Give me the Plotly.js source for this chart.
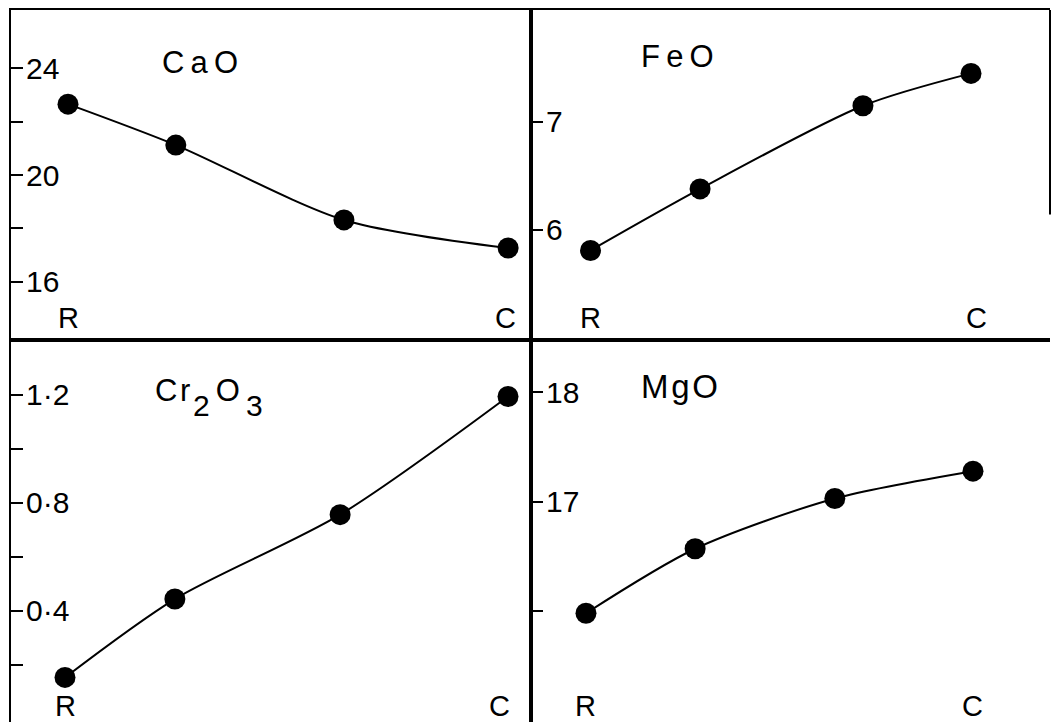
<!DOCTYPE html>
<html>
<head>
<meta charset="utf-8">
<script src="https://cdn.plot.ly/plotly-3.0.1.min.js"></script>
<style>
  html, body { margin: 0; padding: 0; background: #fff; overflow: hidden; }
  #wrap { width: 1054px; height: 722px; overflow: hidden; position: relative; }
  #chart { width: 1054px; height: 742px; }
</style>
</head>
<body>
<div id="wrap"><div id="chart"></div></div>
<script>
// ---- data ----
const profileLabels = ["R", "C"];   // rim, core
const profileEnds = [0, 1];

const caoPos = [0, 0.245, 0.627, 1];
const caoValues = [22.65, 21.12, 18.32, 17.27];
const caoTickVals = [16, 18, 20, 22, 24];
const caoTickText = ["16", "", "20", "", "24"];

const feoPos = [0, 0.288, 0.716, 1];
const feoValues = [5.81, 6.38, 7.15, 7.45];
const feoTickVals = [6, 7];
const feoTickText = ["6", "7"];

const cr2o3Pos = [0, 0.248, 0.621, 1];
const cr2o3Values = [0.154, 0.444, 0.756, 1.193];
const cr2o3TickVals = [0.2, 0.4, 0.6, 0.8, 1.0, 1.2];
const cr2o3TickText = ["", "0\u00b74", "", "0\u00b78", "", "1\u00b72"];

const mgoPos = [0, 0.282, 0.643, 1];
const mgoValues = [15.98, 16.57, 17.03, 17.28];
const mgoTickVals = [16, 17, 18];
const mgoTickText = ["", "17", "18"];

// ---- styling ----
const FONT = '"Liberation Sans", Arial, Helvetica, sans-serif';
const W = 1054, H = 742;
const xL = [11 / W, 531 / W], xR = [531 / W, 1050 / W];
const bottomEdge = 728;
const yT = [1 - 340 / H, 1 - 10 / H], yB = [1 - bottomEdge / H, 1 - 340 / H];

function trace(x, y, xa, ya) {
  return {
    x: x, y: y, xaxis: xa, yaxis: ya, type: "scatter", mode: "lines+markers",
    line: { color: "#000", width: 2, shape: "spline", smoothing: 0.8 },
    marker: { color: "#000", size: 21 },
    cliponaxis: false, hoverinfo: "skip", showlegend: false
  };
}

function xaxis(domain, range, anchor) {
  return {
    domain: domain, range: range, anchor: anchor,
    showline: true, mirror: true, linecolor: "#000", linewidth: 2,
    showgrid: false, zeroline: false, ticks: "", showticklabels: false
  };
}
function yaxis(domain, range, anchor, tv, tt, mirror) {
  return {
    domain: domain, range: range, anchor: anchor,
    showline: true, mirror: mirror, linecolor: "#000", linewidth: 2,
    showgrid: false, zeroline: false,
    tickvals: tv, ticktext: tt, ticks: "inside", ticklen: 12, tickwidth: 2, tickcolor: "#000",
    ticklabelposition: "inside", ticklabelstandoff: 6,
    tickfont: { family: FONT, size: 30, color: "#000" }
  };
}

const data = [
  trace(caoPos, caoValues, "x", "y"),
  trace(feoPos, feoValues, "x2", "y2"),
  trace(cr2o3Pos, cr2o3Values, "x3", "y3"),
  trace(mgoPos, mgoValues, "x4", "y4")
];

function title(text, xa, ya, x, y, size, anchor) {
  return {
    text: text, xref: xa + " domain", yref: ya + " domain", x: x, y: y,
    xanchor: anchor || "center", yanchor: "middle", showarrow: false,
    font: { family: FONT, size: size, color: "#000" }
  };
}

// R / C end labels placed at the profile ends on each panel's x scale
function endLabels(xa, ya, cShift) {
  return profileEnds.map((v, i) => ({
    text: profileLabels[i], xref: xa, yref: ya + " domain", x: v, y: 0,
    xanchor: "center", yanchor: "middle", yshift: 22, xshift: i === 1 ? cShift : 0,
    showarrow: false, font: { family: FONT, size: 29, color: "#000" }
  }));
}

const T = "\u2009", HS = "\u200A";
const sub = (d) => '<span style="baseline-shift:-15px;font-size:30px">' + d + '</span>';

const layout = {
  width: W, height: H,
  margin: { l: 0, r: 0, t: 0, b: 0, pad: 0 },
  paper_bgcolor: "#fff", plot_bgcolor: "rgba(0,0,0,0)",
  showlegend: false,
  xaxis: xaxis(xL, [-0.1295, 1.052], "y"),
  yaxis: yaxis(yT, [13.83, 26.17], "x", caoTickVals, caoTickText, true),
  xaxis2: xaxis(xR, [-0.1564, 1.2076], "y2"),
  yaxis2: yaxis(yT, [4.981, 8.037], "x2", feoTickVals, feoTickText, false),
  xaxis3: xaxis(xL, [-0.1219, 1.0519], "y3"),
  yaxis3: yaxis(yB, [-0.033, 1.402], "x3", cr2o3TickVals, cr2o3TickText, true),
  xaxis4: xaxis(xR, [-0.1421, 1.199], "y4"),
  yaxis4: yaxis(yB, [14.93, 18.48], "x4", mgoTickVals, mgoTickText, false),
  annotations: [
    title("C" + T + "a" + T + "O", "x", "y", 0.3635, 0.84, 31),
    title("F" + T + "e" + T + "O", "x2", "y2", 0.283, 0.86, 31),
    title("C" + HS + "r" + HS + sub("2") + T + "O" + T + sub("3"), "x3", "y3", 0.273, 0.852, 31, "left"),
    title("M" + HS + "g" + HS + "O", "x4", "y4", 0.287, 0.88, 33)
  ].concat(
    endLabels("x", "y", -3),
    endLabels("x2", "y2", 5),
    endLabels("x3", "y3", -9),
    endLabels("x4", "y4", 0)
  ),
  shapes: [
    { type: "line", xref: "x2 domain", yref: "y2 domain", x0: 1, x1: 1, y0: 0.38, y1: 1,
      line: { color: "#000", width: 2 } }
  ]
};

Plotly.newPlot("chart", data, layout, { staticPlot: true, displayModeBar: false });
</script>
</body>
</html>
